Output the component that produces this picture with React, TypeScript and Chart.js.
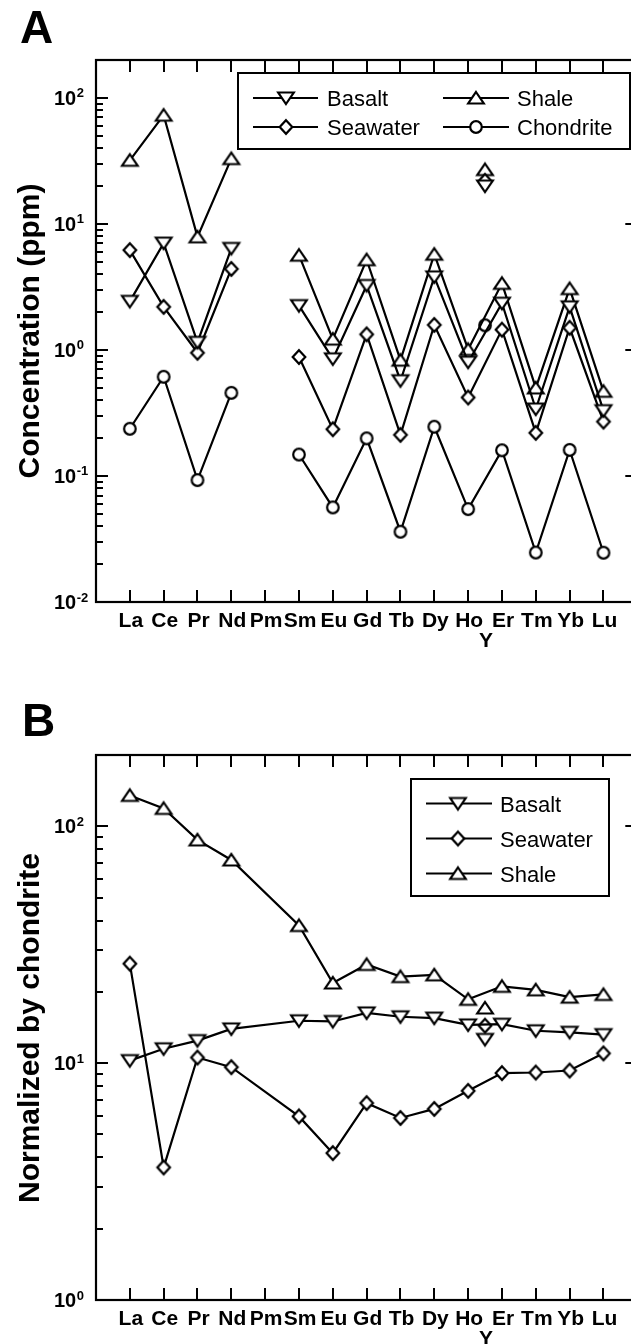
import React, { useEffect, useRef } from "react";
import { Chart, registerables } from "chart.js";

Chart.register(...registerables);

const FONT = "'Liberation Sans', Arial, Helvetica, sans-serif";

// ---------- data ----------
const elementLabels = ["La", "Ce", "Pr", "Nd", "Pm", "Sm", "Eu", "Gd", "Tb", "Dy", "Ho", "Er", "Tm", "Yb", "Lu"];
const yttriumLabel = "Y";
const yttriumPosition = 11.5;

// Panel A: concentrations (ppm); null = not measured (Pm)
const basaltPpm = [2.43, 7.05, 1.15, 6.4, null, 2.25, 0.85, 3.25, 0.57, 3.8, 0.8, 2.35, 0.34, 2.2, 0.33];
const seawaterPpm = [6.2, 2.2, 0.95, 4.4, null, 0.88, 0.235, 1.33, 0.212, 1.58, 0.42, 1.45, 0.22, 1.5, 0.27];
const shalePpm = [32, 73, 7.9, 33, null, 5.65, 1.22, 5.2, 0.83, 5.75, 1.01, 3.38, 0.5, 3.07, 0.47];
const chondritePpm = [0.237, 0.613, 0.0928, 0.457, null, 0.148, 0.0563, 0.199, 0.0361, 0.246, 0.0546, 0.16, 0.0247, 0.161, 0.0246];
const basaltYPpm = 20;
const seawaterYPpm = 22;
const shaleYPpm = 27;
const chondriteYPpm = 1.57;

// Panel B: normalized by chondrite
const basaltNorm = [10.25, 11.5, 12.45, 13.95, null, 15.1, 15.0, 16.3, 15.7, 15.5, 14.5, 14.6, 13.7, 13.5, 13.2];
const seawaterNorm = [26.3, 3.63, 10.56, 9.62, null, 5.96, 4.17, 6.78, 5.87, 6.41, 7.64, 9.08, 9.13, 9.31, 11.0];
const shaleNorm = [135, 119, 87.6, 72.1, null, 38.1, 21.8, 26.1, 23.2, 23.6, 18.6, 21.1, 20.4, 19.0, 19.5];
const basaltYNorm = 12.6;
const seawaterYNorm = 14.4;
const shaleYNorm = 17.1;

const seriesNames = ["Basalt", "Seawater", "Shale", "Chondrite"];

// ---------- markers ----------
type MarkerKind = "down" | "diamond" | "up" | "circle";

function makeMarker(kind: MarkerKind): HTMLCanvasElement {
  const c = document.createElement("canvas");
  c.width = 24;
  c.height = 24;
  const ctx = c.getContext("2d")!;
  ctx.translate(12, 12);
  ctx.beginPath();
  if (kind === "up") {
    ctx.moveTo(0, -6);
    ctx.lineTo(7.8, 5.5);
    ctx.lineTo(-7.8, 5.5);
    ctx.closePath();
  } else if (kind === "down") {
    ctx.moveTo(0, 6);
    ctx.lineTo(7.8, -5.5);
    ctx.lineTo(-7.8, -5.5);
    ctx.closePath();
  } else if (kind === "diamond") {
    ctx.moveTo(0, -6.8);
    ctx.lineTo(6.3, 0);
    ctx.lineTo(0, 6.8);
    ctx.lineTo(-6.3, 0);
    ctx.closePath();
  } else {
    ctx.arc(0, 0, 5.8, 0, Math.PI * 2);
  }
  ctx.fillStyle = "#fff";
  ctx.fill();
  ctx.lineWidth = 2.2;
  ctx.lineJoin = "miter";
  ctx.strokeStyle = "#000";
  ctx.stroke();
  return c;
}

type LegendItem = { label: string; marker: MarkerKind; x1: number; x2: number; mx: number; tx: number; y: number };

type PanelSpec = {
  canvasTop: number;
  width: number;
  height: number;
  area: { left: number; top: number; right: number; bottom: number };
  yMin: number;
  yMax: number;
  decades: number[];
  letter: string;
  letterX: number;
  letterY: number;
  title: string;
  titleX: number;
  titleY: number;
  spanGaps: boolean;
  legendBox: { x: number; y: number; w: number; h: number };
  legend: LegendItem[];
  series: { name: string; marker: MarkerKind; values: (number | null)[]; yValue: number }[];
};

function makeFramePlugin(spec: PanelSpec, markers: Record<MarkerKind, HTMLCanvasElement>) {
  return {
    id: "frameAxes" + spec.letter,
    afterDatasetsDraw(chart: any) {
      const ctx: CanvasRenderingContext2D = chart.ctx;
      const { left, top, right, bottom } = chart.chartArea;
      const xs = chart.scales.x;
      const ys = chart.scales.y;
      ctx.save();
      ctx.strokeStyle = "#000";
      ctx.fillStyle = "#000";
      ctx.lineWidth = 2.2;
      ctx.strokeRect(left, top, right - left, bottom - top);
      ctx.beginPath();
      for (let i = 1; i <= elementLabels.length; i++) {
        const px = Math.round(xs.getPixelForValue(i));
        ctx.moveTo(px, bottom);
        ctx.lineTo(px, bottom - 12);
        ctx.moveTo(px, top);
        ctx.lineTo(px, top + 12);
      }
      ctx.lineWidth = 2;
      ctx.stroke();
      ctx.beginPath();
      for (const e of spec.decades) {
        const v = Math.pow(10, e);
        const py = Math.round(ys.getPixelForValue(v));
        ctx.moveTo(left, py);
        ctx.lineTo(left + 12, py);
        ctx.moveTo(right, py);
        ctx.lineTo(right - 12, py);
        for (let m = 2; m <= 9; m++) {
          const mv = v * m;
          if (mv >= spec.yMax) break;
          const my = Math.round(ys.getPixelForValue(mv));
          ctx.moveTo(left, my);
          ctx.lineTo(left + 7, my);
        }
      }
      ctx.stroke();

      // y tick labels 10^n
      for (const e of spec.decades) {
        const py = ys.getPixelForValue(Math.pow(10, e));
        ctx.font = `bold 20px ${FONT}`;
        ctx.textAlign = "left";
        ctx.textBaseline = "alphabetic";
        ctx.fillText("10", 54, py + 7);
        const w = ctx.measureText("10").width;
        ctx.font = `bold 13px ${FONT}`;
        const exp = e < 0 ? "-" + Math.abs(e) : String(e);
        ctx.fillText(exp, 54 + w + 0.5, py - 0.5);
      }

      // x tick labels
      ctx.font = `bold 21px ${FONT}`;
      ctx.textAlign = "center";
      elementLabels.forEach((lab, i) => {
        ctx.fillText(lab, xs.getPixelForValue(i + 1) + 1, bottom + 25);
      });
      ctx.fillText(yttriumLabel, xs.getPixelForValue(yttriumPosition) + 1, bottom + 45);

      // y axis title
      ctx.save();
      ctx.translate(spec.titleX, spec.titleY);
      ctx.rotate(-Math.PI / 2);
      ctx.font = `bold 30px ${FONT}`;
      ctx.textAlign = "center";
      ctx.fillText(spec.title, 0, 0);
      ctx.restore();

      // panel letter
      ctx.font = `bold 46px ${FONT}`;
      ctx.textAlign = "left";
      ctx.fillText(spec.letter, spec.letterX, spec.letterY);

      // legend
      const b = spec.legendBox;
      ctx.fillStyle = "#fff";
      ctx.fillRect(b.x, b.y, b.w, b.h);
      ctx.lineWidth = 2;
      ctx.strokeStyle = "#000";
      ctx.strokeRect(b.x, b.y, b.w, b.h);
      ctx.fillStyle = "#000";
      ctx.font = `22px ${FONT}`;
      ctx.textAlign = "left";
      for (const it of spec.legend) {
        ctx.beginPath();
        ctx.moveTo(it.x1, it.y);
        ctx.lineTo(it.x2, it.y);
        ctx.lineWidth = 2;
        ctx.stroke();
        ctx.drawImage(markers[it.marker], it.mx - 12, it.y - 12);
        ctx.fillText(it.label, it.tx, it.y + 8);
      }
      ctx.restore();
    },
  };
}

function Panel({ spec }: { spec: PanelSpec }) {
  const ref = useRef<HTMLCanvasElement | null>(null);
  useEffect(() => {
    const canvas = ref.current;
    if (!canvas) return;
    const markers: Record<MarkerKind, HTMLCanvasElement> = {
      up: makeMarker("up"),
      down: makeMarker("down"),
      diamond: makeMarker("diamond"),
      circle: makeMarker("circle"),
    };
    const datasets: any[] = [];
    spec.series.forEach((s) => {
      datasets.push({
        label: s.name,
        data: s.values.map((v, i) => ({ x: i + 1, y: v })),
        borderColor: "#000",
        borderWidth: 2.2,
        pointStyle: markers[s.marker],
        pointRadius: 7,
        spanGaps: spec.spanGaps,
        fill: false,
        tension: 0,
      });
    });
    spec.series.forEach((s) => {
      datasets.push({
        label: s.name + " (Y)",
        data: [{ x: yttriumPosition, y: s.yValue }],
        showLine: false,
        borderColor: "#000",
        borderWidth: 2,
        pointStyle: markers[s.marker],
        pointRadius: 7,
      });
    });
    const a = spec.area;
    const chart = new Chart(canvas, {
      type: "line",
      data: { datasets },
      options: {
        animation: false,
        responsive: false,
        maintainAspectRatio: false,
        events: [],
        layout: {
          padding: { left: a.left, top: a.top, right: spec.width - a.right, bottom: spec.height - a.bottom },
        },
        plugins: { legend: { display: false }, tooltip: { enabled: false }, title: { display: false } },
        scales: {
          x: { type: "linear", min: 0, max: 16, display: false },
          y: { type: "logarithmic", min: spec.yMin, max: spec.yMax, display: false },
        },
      },
      plugins: [makeFramePlugin(spec, markers)],
    });
    return () => chart.destroy();
  }, [spec]);
  return (
    <canvas
      ref={ref}
      width={spec.width}
      height={spec.height}
      style={{ position: "absolute", left: 0, top: spec.canvasTop, width: spec.width, height: spec.height }}
    />
  );
}

const panelA: PanelSpec = {
  canvasTop: 0,
  width: 660,
  height: 670,
  area: { left: 96, top: 60, right: 637.3, bottom: 602 },
  yMin: 0.01,
  yMax: 200,
  decades: [-2, -1, 0, 1, 2],
  letter: "A",
  letterX: 20,
  letterY: 43,
  title: "Concentration (ppm)",
  titleX: 39,
  titleY: 331,
  spanGaps: false,
  legendBox: { x: 238, y: 73, w: 392, h: 76 },
  legend: [
    { label: seriesNames[0], marker: "down", x1: 253, x2: 318, mx: 286, tx: 327, y: 98 },
    { label: seriesNames[2], marker: "up", x1: 443, x2: 509, mx: 476, tx: 517, y: 98 },
    { label: seriesNames[1], marker: "diamond", x1: 253, x2: 318, mx: 286, tx: 327, y: 127 },
    { label: seriesNames[3], marker: "circle", x1: 443, x2: 509, mx: 476, tx: 517, y: 127 },
  ],
  series: [
    { name: seriesNames[0], marker: "down", values: basaltPpm, yValue: basaltYPpm },
    { name: seriesNames[1], marker: "diamond", values: seawaterPpm, yValue: seawaterYPpm },
    { name: seriesNames[2], marker: "up", values: shalePpm, yValue: shaleYPpm },
    { name: seriesNames[3], marker: "circle", values: chondritePpm, yValue: chondriteYPpm },
  ],
};

const panelB: PanelSpec = {
  canvasTop: 680,
  width: 660,
  height: 664,
  area: { left: 96, top: 75, right: 637.3, bottom: 620 },
  yMin: 1,
  yMax: 200,
  decades: [0, 1, 2],
  letter: "B",
  letterX: 22,
  letterY: 56,
  title: "Normalized by chondrite",
  titleX: 39,
  titleY: 348,
  spanGaps: true,
  legendBox: { x: 411, y: 99, w: 198, h: 117 },
  legend: [
    { label: seriesNames[0], marker: "down", x1: 426, x2: 492, mx: 458, tx: 500, y: 123.5 },
    { label: seriesNames[1], marker: "diamond", x1: 426, x2: 492, mx: 458, tx: 500, y: 158.5 },
    { label: seriesNames[2], marker: "up", x1: 426, x2: 492, mx: 458, tx: 500, y: 193.5 },
  ],
  series: [
    { name: seriesNames[0], marker: "down", values: basaltNorm, yValue: basaltYNorm },
    { name: seriesNames[1], marker: "diamond", values: seawaterNorm, yValue: seawaterYNorm },
    { name: seriesNames[2], marker: "up", values: shaleNorm, yValue: shaleYNorm },
  ],
};

export default function App() {
  return (
    <div
      style={{
        position: "absolute",
        left: 0,
        top: 0,
        width: 631,
        height: 1344,
        overflow: "hidden",
        background: "#fff",
      }}
    >
      <Panel spec={panelA} />
      <Panel spec={panelB} />
    </div>
  );
}
